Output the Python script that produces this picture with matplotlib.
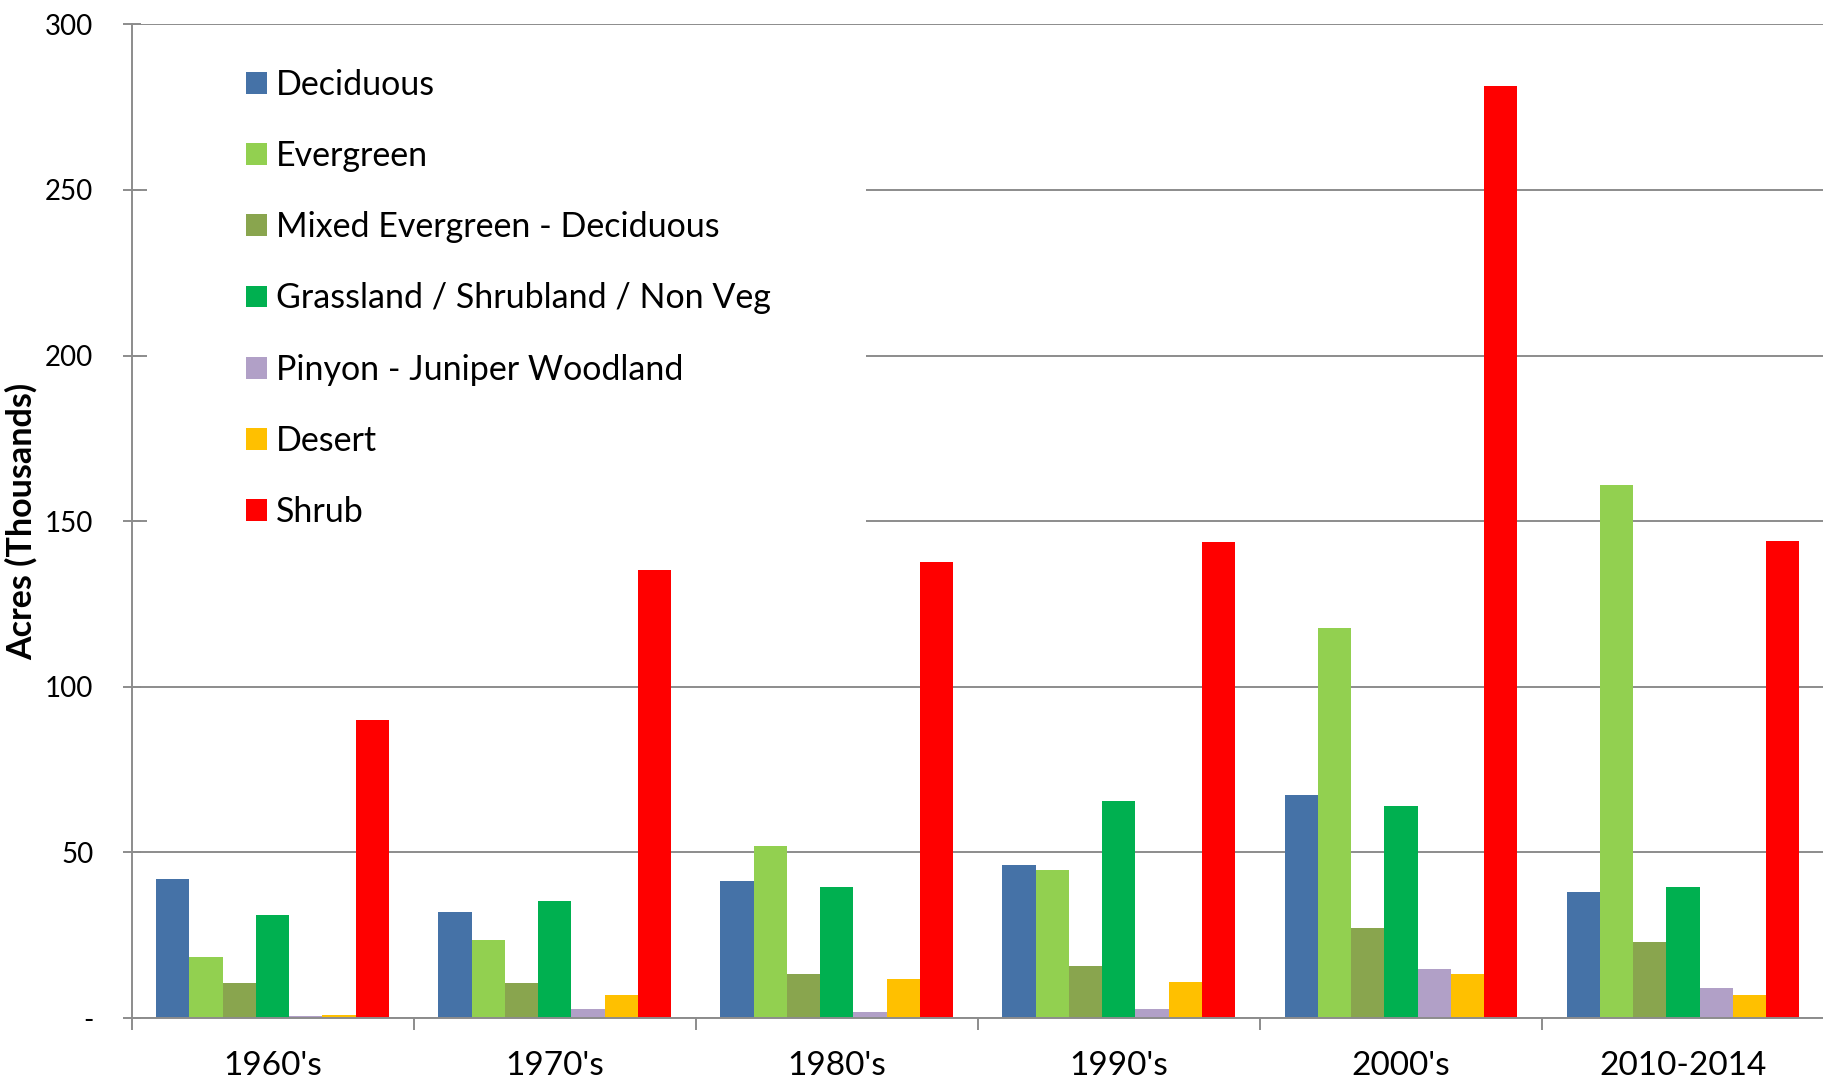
import matplotlib
matplotlib.use("Agg")
import matplotlib.pyplot as plt
from matplotlib.patches import Patch, Rectangle
import numpy as np

plt.rcParams['font.family'] = ['Lato', 'DejaVu Sans']

periods = ["1960's", "1970's", "1980's", "1990's", "2000's", "2010-2014"]
series_names = [
    "Deciduous",
    "Evergreen",
    "Mixed Evergreen - Deciduous",
    "Grassland / Shrubland / Non Veg",
    "Pinyon - Juniper Woodland",
    "Desert",
    "Shrub",
]
deciduous = [42.0, 32.1, 41.3, 46.3, 67.3, 38.0]
evergreen = [18.5, 23.6, 51.8, 44.7, 117.9, 160.8]
mixed = [10.7, 10.7, 13.2, 15.8, 27.2, 22.9]
grassland = [31.1, 35.2, 39.5, 65.4, 64.0, 39.6]
pinyon = [0.5, 2.6, 1.7, 2.8, 14.7, 9.1]
desert = [0.9, 6.8, 11.7, 10.9, 13.4, 6.8]
shrub = [90.0, 135.2, 137.6, 143.8, 281.3, 144.1]
y_ticks = [0, 50, 100, 150, 200, 250, 300]
y_tick_labels = ["-", "50", "100", "150", "200", "250", "300"]

colors = ["#4572A7", "#92D050", "#89A54E", "#00B050", "#B1A0C7", "#FFC000", "#FF0000"]
all_series = [deciduous, evergreen, mixed, grassland, pinyon, desert, shrub]

fig = plt.figure(figsize=(18.24, 10.83), dpi=100)
ax = fig.add_axes([0.0721, 0.0600, 0.9279, 0.9175])

n = len(all_series)
group = 0.825
w = group / n
centers = np.arange(len(periods)) + 0.5
for j, (vals, c) in enumerate(zip(all_series, colors)):
    offs = centers - group / 2 + w * (j + 0.5)
    ax.bar(offs, vals, width=w, color=c, zorder=2, linewidth=0)

ax.set_xlim(0, len(periods))
ax.set_ylim(0, 300)

grid_c = "#8C8C8C"
ax.set_yticks(y_ticks)
ax.set_yticklabels(y_tick_labels, fontsize=20)
ax.yaxis.grid(True, color=grid_c, linewidth=1.4, zorder=0)
ax.set_axisbelow(True)
ax.tick_params(axis='y', direction='inout', length=13, width=1.4, color=grid_c, pad=21)

ax.set_xticks(centers)
ax.set_xticklabels(periods, fontsize=24)
ax.tick_params(axis='x', which='major', length=0, pad=24)
ax.set_xticks(np.arange(len(periods)), minor=True)
ax.tick_params(axis='x', which='minor', direction='out', length=8.5, width=1.4, color=grid_c)

for s in ("top", "right"):
    ax.spines[s].set_visible(False)
for s in ("left", "bottom"):
    ax.spines[s].set_color(grid_c)
    ax.spines[s].set_linewidth(1.4)

ax.set_ylabel("Acres (Thousands)", fontsize=24.5, fontweight='bold', labelpad=5)

# white panel behind the legend entries
ax.add_patch(Rectangle((0.0092, 143), 0.425, 154, transform=ax.get_yaxis_transform(),
                       facecolor="white", edgecolor="none", zorder=1))

handles = [Patch(facecolor=c, edgecolor="none") for c in colors]
fs = 24.5
ax.legend(handles, series_names, loc='upper left', bbox_to_anchor=(0.0677, 0.955),
          frameon=False, fontsize=fs, handlelength=15 / fs, handleheight=15 / fs,
          handletextpad=0.27, labelspacing=1.15, borderpad=0, borderaxespad=0)

fig.savefig("out.png", dpi=100)
